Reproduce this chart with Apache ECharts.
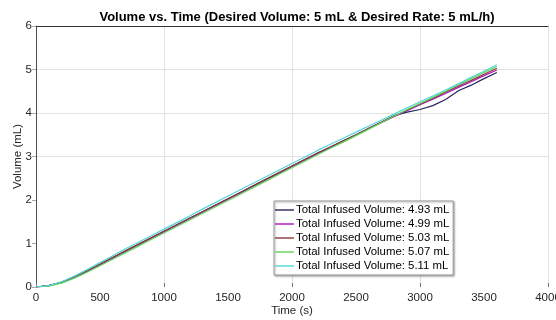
<!DOCTYPE html>
<html>
<head>
<meta charset="utf-8">
<script src="https://cdn.jsdelivr.net/npm/echarts@6/dist/echarts.min.js"></script>
<style>
html,body{margin:0;padding:0;background:#fff;}
#chart{width:556px;height:320px;}
</style>
</head>
<body>
<div id="chart"></div>
<script>
const titleText = 'Volume vs. Time (Desired Volume: 5 mL & Desired Rate: 5 mL/h)';
const xName = 'Time (s)';
const yName = 'Volume (mL)';
const times = [0,100,200,300,400,500,600,700,800,900,1000,1100,1200,1300,1400,1500,1600,1700,1800,1900,2000,2100,2200,2300,2400,2500,2600,2700,2800,2900,3000,3100,3200,3300,3400,3500,3600];
const seriesNames = [
  'Total Infused Volume: 4.93 mL',
  'Total Infused Volume: 4.99 mL',
  'Total Infused Volume: 5.03 mL',
  'Total Infused Volume: 5.07 mL',
  'Total Infused Volume: 5.11 mL'
];
const vol493 = [0,0.03,0.11,0.23,0.37,0.52,0.68,0.83,0.98,1.13,1.28,1.43,1.58,1.73,1.88,2.03,2.18,2.33,2.48,2.63,2.78,2.93,3.08,3.22,3.36,3.50,3.65,3.79,3.94,4.02,4.08,4.17,4.31,4.51,4.64,4.79,4.93];
const vol499 = [0,0.03,0.11,0.23,0.37,0.52,0.67,0.82,0.97,1.12,1.27,1.42,1.57,1.72,1.87,2.02,2.17,2.32,2.47,2.62,2.77,2.92,3.07,3.21,3.35,3.49,3.64,3.78,3.92,4.05,4.19,4.32,4.45,4.59,4.72,4.86,4.99];
const vol503 = [0,0.03,0.11,0.23,0.37,0.52,0.68,0.83,0.98,1.13,1.28,1.43,1.58,1.73,1.88,2.03,2.18,2.33,2.48,2.63,2.78,2.93,3.08,3.22,3.36,3.50,3.65,3.79,3.93,4.07,4.21,4.34,4.48,4.62,4.75,4.89,5.03];
const vol507 = [0,0.02,0.09,0.20,0.34,0.49,0.64,0.79,0.94,1.09,1.24,1.39,1.54,1.69,1.84,1.99,2.14,2.29,2.44,2.59,2.74,2.89,3.04,3.19,3.33,3.48,3.63,3.78,3.93,4.08,4.22,4.36,4.50,4.65,4.79,4.93,5.07];
const vol511 = [0,0.03,0.12,0.25,0.40,0.56,0.72,0.88,1.03,1.18,1.33,1.48,1.63,1.79,1.94,2.09,2.24,2.39,2.54,2.69,2.84,2.99,3.14,3.28,3.42,3.56,3.70,3.84,3.98,4.12,4.26,4.39,4.53,4.67,4.82,4.96,5.11];
const seriesValues = [vol493, vol499, vol503, vol507, vol511];
const seriesColors = ['#262660','#b012c0','#8b3a3a','#5cd65c','#4fd6d6'];
const xTicks = [0,500,1000,1500,2000,2500,3000,3500,4000];
const yTicks = [0,1,2,3,4,5,6];

const font = 'Liberation Sans, Arial, Helvetica, sans-serif';
const chart = echarts.init(document.getElementById('chart'));
const gridColors = yTicks.map(v => (v >= 3 && v <= 5) ? '#e2e2e2' : 'transparent');

chart.setOption({
  animation: false,
  backgroundColor: '#fff',
  title: {
    text: titleText,
    left: 292,
    top: 6,
    textAlign: 'center',
    textStyle: {fontFamily: font, fontSize: 13, fontWeight: 'bold', color: '#000'}
  },
  grid: {left: 36, right: 8, top: 26, bottom: 33, containLabel: false, outerBoundsMode: 'none'},
  legend: {
    orient: 'vertical',
    left: 274,
    top: 201,
    padding: [2, 4, 2, 1],
    itemGap: 0,
    itemWidth: 19,
    itemHeight: 1.4,
    icon: 'rect',
    backgroundColor: '#fff',
    borderColor: '#9a9a9a',
    borderWidth: 1,
    shadowColor: 'rgba(0,0,0,0.35)',
    shadowBlur: 2,
    shadowOffsetX: 1,
    shadowOffsetY: 1,
    textStyle: {fontFamily: font, fontSize: 11.4, color: '#000', lineHeight: 14, padding: [0,0,0,-3]},
    data: seriesNames
  },
  xAxis: [
    {
      type: 'value', min: xTicks[0], max: xTicks[xTicks.length-1], interval: 500,
      position: 'bottom',
      name: xName, nameLocation: 'middle', nameGap: 18, nameMoveOverlap: false,
      nameTextStyle: {fontFamily: font, fontSize: 11.5, color: '#262626'},
      axisLine: {show: false}, axisTick: {show: false}, splitLine: {show: false},
      axisLabel: {fontFamily: font, fontSize: 11.5, color: '#262626', margin: 5, formatter: v => String(v)}
    },
    {
      type: 'value', min: 0, max: 4000, interval: 1000, position: 'bottom',
      axisLine: {show: false}, axisLabel: {show: false},
      axisTick: {show: true, inside: true, length: 4, lineStyle: {color: '#777'}},
      splitLine: {show: true, lineStyle: {color: '#e2e2e2', width: 1}}
    },
    {
      type: 'value', min: 0, max: 4000, position: 'top',
      axisLine: {show: true, onZero: false, lineStyle: {color: '#333', width: 1}},
      axisLabel: {show: false}, axisTick: {show: false}, splitLine: {show: false}
    }
  ],
  yAxis: [
    {
      type: 'value', min: yTicks[0], max: yTicks[yTicks.length-1], interval: 1,
      name: yName, nameLocation: 'middle', nameGap: 12.5, nameMoveOverlap: false,
      nameTextStyle: {fontFamily: font, fontSize: 11.5, color: '#262626'},
      axisLine: {show: true, onZero: false, lineStyle: {color: '#4d4d4d', width: 1}},
      axisTick: {show: false},
      axisLabel: {fontFamily: font, fontSize: 11.5, color: '#262626', margin: 4},
      splitLine: {show: true, lineStyle: {color: gridColors, width: 1}}
    },
    {
      type: 'value', min: 0, max: 6, interval: 1, position: 'right',
      axisLine: {show: false}, axisLabel: {show: false},
      axisTick: {show: true, inside: true, length: 4, lineStyle: {color: '#aaa'}},
      splitLine: {show: false}
    }
  ],
  series: seriesNames.map((name, i) => ({
    name: name,
    type: 'line',
    xAxisIndex: 0,
    yAxisIndex: 0,
    symbol: 'none',
    smooth: false,
    data: times.map((t, j) => [t, seriesValues[i][j]]),
    lineStyle: {color: seriesColors[i], width: 1.2},
    itemStyle: {color: seriesColors[i]}
  }))
});
</script>
</body>
</html>
